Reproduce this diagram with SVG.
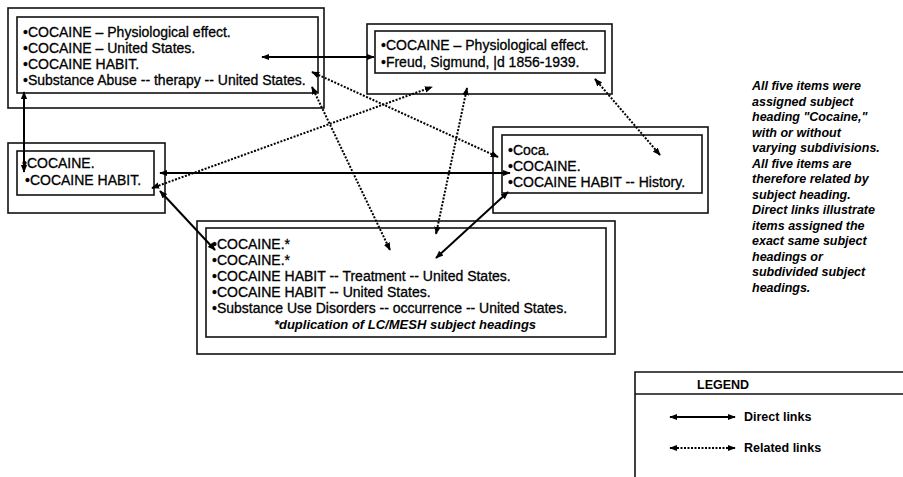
<svg xmlns="http://www.w3.org/2000/svg" width="903" height="477" viewBox="0 0 903 477">
<style>
.frame{fill:none;stroke:#111;stroke-width:1.6}
.t{font-family:"Liberation Sans",Arial,sans-serif;font-size:14px;fill:#000;stroke:#000;stroke-width:0.3}
.note{font-family:"Liberation Sans",Arial,sans-serif;font-size:12.5px;font-weight:bold;font-style:italic;fill:#000}
.it{font-family:"Liberation Sans",Arial,sans-serif;font-size:13px;font-weight:bold;font-style:italic;fill:#000}
.lg{font-family:"Liberation Sans",Arial,sans-serif;font-size:12.5px;font-weight:bold;fill:#000}
.direct{stroke:#000;stroke-width:2;fill:none;marker-start:url(#ah);marker-end:url(#ah)}
.related{stroke:#000;stroke-width:2;stroke-dasharray:2 1.5;fill:none;marker-start:url(#ah);marker-end:url(#ah)}
</style>
<defs>
<marker id="ah" viewBox="0 0 10 10" refX="9" refY="5" markerWidth="4" markerHeight="4" orient="auto-start-reverse">
<path d="M0,1 L10,5 L0,9 z" fill="#000"/>
</marker>
</defs>
<rect width="903" height="477" fill="#fff"/>

<g id="node-1">
<rect class="frame" x="8" y="8" width="316" height="100"/>
<rect class="frame" x="17" y="17" width="301" height="76"/>
<text class="t" x="23" y="37">•COCAINE – Physiological effect.</text>
<text class="t" x="23" y="53">•COCAINE – United States.</text>
<text class="t" x="23" y="69">•COCAINE HABIT.</text>
<text class="t" x="23" y="85">•Substance Abuse -- therapy -- United States.</text>
</g>

<g id="node-2">
<rect class="frame" x="367" y="24" width="245" height="70"/>
<rect class="frame" x="375" y="31" width="230" height="42"/>
<text class="t" x="381" y="50">•COCAINE – Physiological effect.</text>
<text class="t" x="381" y="67">•Freud, Sigmund, |d 1856-1939.</text>
</g>

<g id="node-3">
<rect class="frame" x="8" y="143" width="157" height="70"/>
<rect class="frame" x="17" y="151" width="137" height="44"/>
<text class="t" x="22" y="168">•COCAINE.</text>
<text class="t" x="25" y="185">•COCAINE HABIT.</text>
</g>

<g id="node-4">
<rect class="frame" x="493" y="127" width="215" height="86"/>
<rect class="frame" x="502" y="135" width="200" height="58"/>
<text class="t" x="508" y="155">•Coca.</text>
<text class="t" x="508" y="171">•COCAINE.</text>
<text class="t" x="508" y="187">•COCAINE HABIT -- History.</text>
</g>

<g id="node-5">
<rect class="frame" x="197" y="221" width="418" height="133"/>
<rect class="frame" x="206" y="228" width="400" height="109"/>
<text class="t" x="212" y="249">•COCAINE.*</text>
<text class="t" x="212" y="265">•COCAINE.*</text>
<text class="t" x="212" y="281">•COCAINE HABIT -- Treatment -- United States.</text>
<text class="t" x="212" y="297">•COCAINE HABIT -- United States.</text>
<text class="t" x="212" y="313">•Substance Use Disorders -- occurrence -- United States.</text>
<text class="it" x="405" y="329" text-anchor="middle">*duplication of LC/MESH subject headings</text>
</g>

<g id="connectors">
<line class="direct" x1="262" y1="57" x2="374" y2="57"/>
<line class="direct" x1="24" y1="92" x2="24" y2="172"/>
<line class="direct" x1="160" y1="173" x2="510" y2="173"/>
<line class="direct" x1="160" y1="191" x2="215" y2="250"/>
<line class="direct" x1="508" y1="192" x2="436" y2="258"/>
<line class="related" x1="312" y1="72" x2="498" y2="157"/>
<line class="related" x1="312" y1="87" x2="390" y2="250"/>
<line class="related" x1="152" y1="188" x2="432" y2="87"/>
<line class="related" x1="467" y1="88" x2="436" y2="234"/>
<line class="related" x1="595" y1="79" x2="660" y2="155"/>
</g>

<g id="note">
<text class="note" x="752" y="90">All five items were</text>
<text class="note" x="752" y="105.5">assigned subject</text>
<text class="note" x="752" y="121">heading "Cocaine,"</text>
<text class="note" x="752" y="136.5">with or without</text>
<text class="note" x="752" y="152">varying subdivisions.</text>
<text class="note" x="752" y="167.5">All five items are</text>
<text class="note" x="752" y="183">therefore related by</text>
<text class="note" x="752" y="198.5">subject heading.</text>
<text class="note" x="752" y="214">Direct links illustrate</text>
<text class="note" x="752" y="229.5">items assigned the</text>
<text class="note" x="752" y="245">exact same subject</text>
<text class="note" x="752" y="260.5">headings or</text>
<text class="note" x="752" y="276">subdivided subject</text>
<text class="note" x="752" y="291.5">headings.</text>
</g>

<g id="legend">
<path class="frame" d="M635,477 V372 H903"/>
<line x1="635" y1="394" x2="903" y2="394" stroke="#111" stroke-width="1.4"/>
<text class="lg" x="697" y="389">LEGEND</text>
<line class="direct" x1="670" y1="417" x2="735" y2="417"/>
<text class="lg" x="744" y="421">Direct links</text>
<line class="related" x1="670" y1="448" x2="735" y2="448"/>
<text class="lg" x="744" y="452">Related links</text>
</g>
</svg>
